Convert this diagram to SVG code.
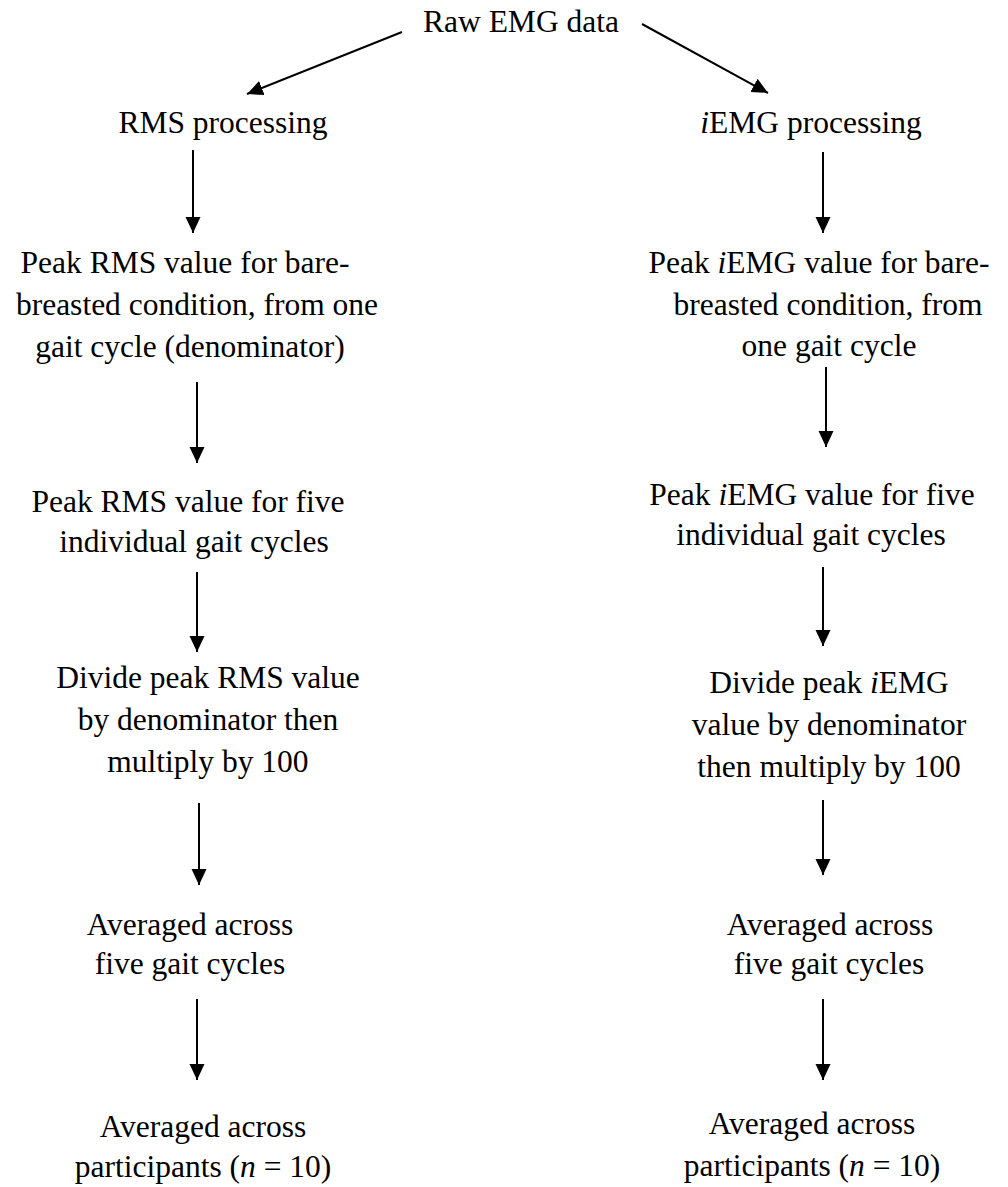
<svg xmlns="http://www.w3.org/2000/svg" width="1008" height="1187" viewBox="0 0 1008 1187" font-family="Liberation Serif, serif">
<defs>
<style>
text{font-family:'Liberation Serif',serif;font-size:31.5px;fill:#000;text-anchor:middle}
.i{font-style:italic}
.c line{stroke:#000;stroke-width:2;marker-end:url(#ah)}
</style>
<marker id="ah" markerUnits="userSpaceOnUse" markerWidth="17" markerHeight="16" refX="16" refY="7.5" orient="auto" viewBox="0 0 17 16">
<path d="M0,0 L16,7.5 L0,15 Z" fill="#000"/>
</marker>
</defs>
<rect width="1008" height="1187" fill="#fff"/>
<g id="connectors" class="c">
<line x1="402" y1="32" x2="247" y2="94"/>
<line x1="642" y1="24" x2="768" y2="93"/>
<line x1="193" y1="150" x2="193" y2="233"/>
<line x1="197" y1="382" x2="197" y2="463"/>
<line x1="197" y1="572" x2="197" y2="652"/>
<line x1="199" y1="803" x2="199" y2="885"/>
<line x1="197" y1="999" x2="197" y2="1080"/>
<line x1="823" y1="152" x2="823" y2="233"/>
<line x1="826" y1="367" x2="826" y2="447"/>
<line x1="823" y1="567" x2="823" y2="646"/>
<line x1="823" y1="800" x2="823" y2="875"/>
<line x1="823" y1="999" x2="823" y2="1080"/>
</g>
<g id="raw"><text x="521" y="32">Raw EMG data</text></g>
<g id="rms1"><text x="223" y="133">RMS processing</text></g>
<g id="rms2">
<text x="185" y="273">Peak RMS value for bare-</text>
<text x="197" y="315">breasted condition, from one</text>
<text x="190" y="357">gait cycle (denominator)</text>
</g>
<g id="rms3">
<text x="188" y="512">Peak RMS value for five</text>
<text x="194" y="552">individual gait cycles</text>
</g>
<g id="rms4">
<text x="208" y="688">Divide peak RMS value</text>
<text x="208" y="730">by denominator then</text>
<text x="208" y="772">multiply by 100</text>
</g>
<g id="rms5">
<text x="190" y="935">Averaged across</text>
<text x="190" y="974">five gait cycles</text>
</g>
<g id="rms6">
<text x="203" y="1137">Averaged across</text>
<text x="203" y="1177">participants (<tspan class="i">n</tspan> = 10)</text>
</g>
<g id="iemg1"><text x="811" y="133"><tspan class="i">i</tspan>EMG processing</text></g>
<g id="iemg2">
<text x="819" y="273">Peak <tspan class="i">i</tspan>EMG value for bare-</text>
<text x="828" y="315">breasted condition, from</text>
<text x="829" y="356">one gait cycle</text>
</g>
<g id="iemg3">
<text x="812" y="505">Peak <tspan class="i">i</tspan>EMG value for five</text>
<text x="811" y="545">individual gait cycles</text>
</g>
<g id="iemg4">
<text x="829" y="693">Divide peak <tspan class="i">i</tspan>EMG</text>
<text x="829" y="735">value by denominator</text>
<text x="829" y="777">then multiply by 100</text>
</g>
<g id="iemg5">
<text x="830" y="935">Averaged across</text>
<text x="829" y="974">five gait cycles</text>
</g>
<g id="iemg6">
<text x="812" y="1134">Averaged across</text>
<text x="812" y="1176">participants (<tspan class="i">n</tspan> = 10)</text>
</g>
</svg>
